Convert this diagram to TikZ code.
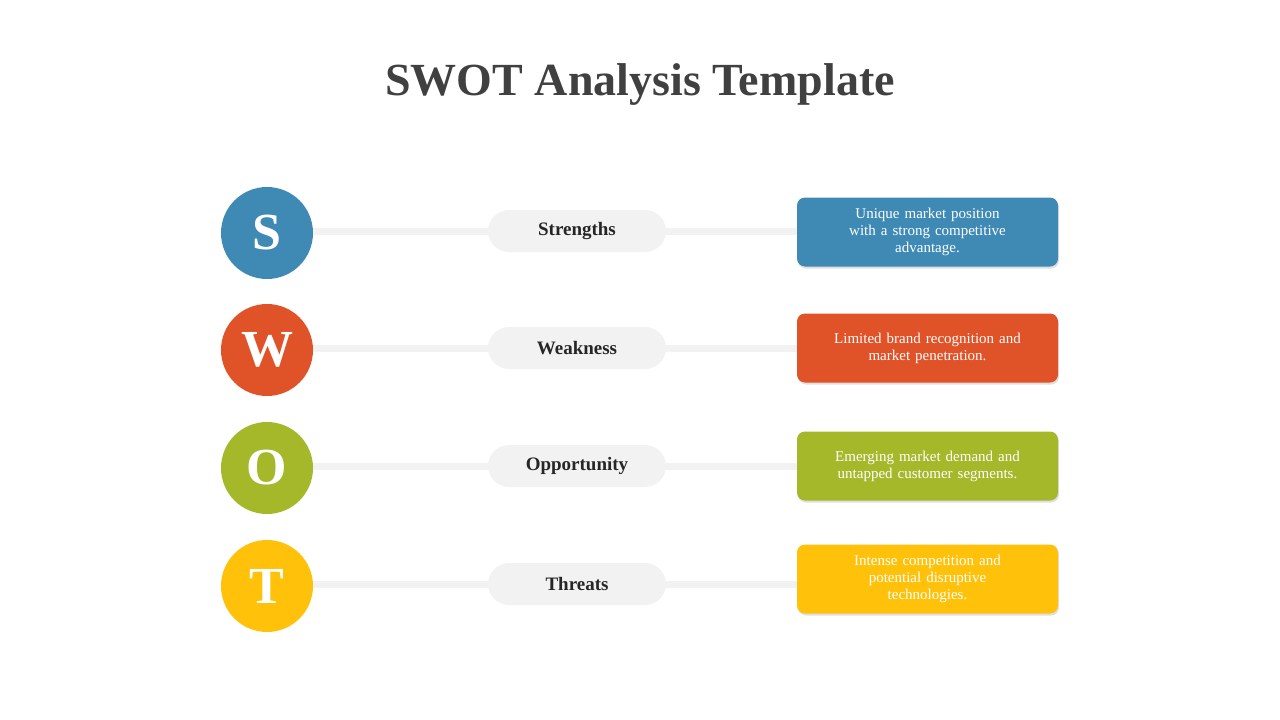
\documentclass[tikz,border=0pt]{standalone}
\usepackage{fontspec}
\setmainfont{Liberation Serif}
\usetikzlibrary{shadows,backgrounds}
\definecolor{cS}{HTML}{3F8AB5}
\definecolor{cW}{HTML}{E05227}
\definecolor{cO}{HTML}{A5B82A}
\definecolor{cT}{HTML}{FFC10A}
\definecolor{pill}{HTML}{F2F2F2}
\definecolor{ttl}{HTML}{404040}
\tikzset{
 letter/.style={circle,minimum size=92pt,inner sep=0pt,text=white,font=\fontsize{52}{52}\selectfont\bfseries},
 pillbox/.style={rounded corners=21pt,fill=pill,minimum width=178pt,minimum height=42pt,inner sep=0pt,text=black!85,font=\fontsize{19}{22}\selectfont\bfseries},
 infobox/.style={rounded corners=8pt,minimum width=261pt,minimum height=69pt,inner sep=2pt,text=white,align=center,text width=220pt,font=\fontsize{15}{17}\selectfont,drop shadow={shadow xshift=1pt,shadow yshift=-2pt,opacity=0.25}},
 link/.style={pill,line width=7pt}
}
\begin{document}
\begin{tikzpicture}[x=1pt,y=-1pt]
\useasboundingbox (0,0) rectangle (1280,720);
\node (title) at (640,85) {\fontsize{46}{50}\selectfont\bfseries\color{ttl}SWOT Analysis Template};
\foreach \n/\L/\c/\y/\yb/\lab/\txt in {
 s/S/cS/233/232/Strengths/{Unique market position\\with a strong competitive\\advantage.},
 w/W/cW/350/348/Weakness/{Limited brand recognition and\\market penetration.},
 o/O/cO/468/466/Opportunity/{Emerging market demand and\\untapped customer segments.},
 t/T/cT/586/579/Threats/{Intense competition and\\potential disruptive\\technologies.}}{
 \node[infobox,fill=\c] (box\n) at (927.5,\yb) {\txt};
 \node[pillbox] (pill\n) at (577,\y-2) {\lab};
 \node[letter,fill=\c] (circ\n) at (267,\y) {\L};
 \begin{pgfonlayer}{background}
 \draw[link] (circ\n.center|-pill\n.center) -- (pill\n.center) -- (box\n.west|-pill\n.center);
 \end{pgfonlayer}
}
\end{tikzpicture}
\end{document}
